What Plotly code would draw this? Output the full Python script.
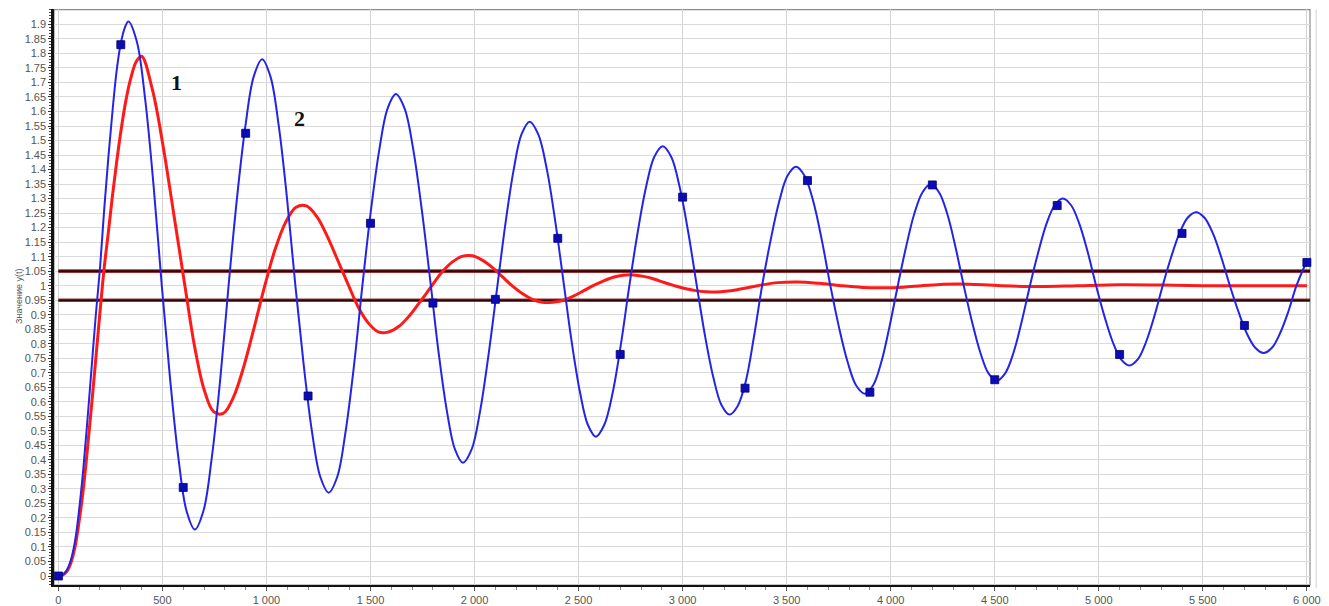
import plotly.graph_objects as go

# ---- data (time, value) ----
blue_t = [0, 20, 40, 60, 80, 100, 120, 140, 160, 180, 200, 220, 240, 260, 280, 300, 320, 337,
          377, 417, 457, 497, 537, 577, 616, 656, 697, 737, 778, 818, 858, 899, 939, 979,
          1019, 1059, 1099, 1139, 1179, 1219, 1259, 1299, 1340, 1380, 1421, 1461, 1501, 1542,
          1582, 1622, 1664, 1706, 1748, 1790, 1828, 1867, 1906, 1944, 1986, 2027, 2068, 2110,
          2149, 2188, 2226, 2265, 2306, 2348, 2389, 2430, 2468, 2507, 2545, 2583, 2623, 2664,
          2704, 2744, 2784, 2824, 2864, 2904, 2945, 2986, 3027, 3068, 3107, 3147, 3186, 3225,
          3264, 3304, 3343, 3382, 3423, 3464, 3504, 3545, 3586, 3628, 3669, 3710, 3751, 3793,
          3834, 3875, 3915, 3955, 3994, 4034, 4074, 4113, 4153, 4192, 4232, 4272, 4311, 4351,
          4391, 4431, 4470, 4510, 4550, 4590, 4629, 4669, 4709, 4748, 4788, 4827, 4867, 4907,
          4947, 4987, 5027, 5067, 5107, 5147, 5187, 5227, 5267, 5307, 5347, 5387, 5427, 5467,
          5508, 5549, 5589, 5630, 5671, 5711, 5752, 5792, 5832, 5871, 5911, 5950, 6000]
blue_v = [0, 0.004, 0.02, 0.055, 0.12, 0.23, 0.37, 0.54, 0.72, 0.90, 1.06, 1.26, 1.44, 1.60, 1.74, 1.835, 1.89, 1.91,
          1.841, 1.643, 1.349, 1.00, 0.678, 0.406, 0.224, 0.16, 0.224, 0.406, 0.678, 1.00, 1.299, 1.551, 1.721, 1.78,
          1.721, 1.551, 1.299, 1.00, 0.727, 0.496, 0.341, 0.287, 0.341, 0.496, 0.727, 1.00, 1.253, 1.467,
          1.610, 1.66, 1.610, 1.467, 1.253, 1.00, 0.766, 0.569, 0.436, 0.39, 0.436, 0.569, 0.766, 1.00,
          1.216, 1.399, 1.522, 1.565, 1.522, 1.399, 1.216, 1.00, 0.801, 0.632, 0.520, 0.48, 0.520, 0.632,
          0.801, 1.00, 1.184, 1.339, 1.444, 1.48, 1.444, 1.339, 1.184, 1.00, 0.830, 0.686, 0.590, 0.556,
          0.585, 0.672, 0.825, 1.00, 1.157, 1.290, 1.379, 1.41, 1.379, 1.290, 1.157, 1.00, 0.858, 0.737,
          0.656, 0.628, 0.656, 0.737, 0.858, 1.00, 1.134, 1.247, 1.322, 1.349, 1.322, 1.247, 1.134, 1.00,
          0.875, 0.769, 0.698, 0.673, 0.698, 0.769, 0.875, 1.00, 1.115, 1.212, 1.277, 1.30, 1.277, 1.212,
          1.115, 1.00, 0.895, 0.806, 0.746, 0.725, 0.746, 0.806, 0.895, 1.00, 1.097, 1.179, 1.234, 1.253,
          1.234, 1.179, 1.097, 1.00, 0.911, 0.836, 0.786, 0.768, 0.786, 0.836, 0.911, 1.00, 1.085]

red_t = [0, 20, 40, 60, 80, 100, 120, 140, 160, 180, 200, 220, 240, 260, 280, 300, 325, 350, 375, 400,
         452, 504, 556, 608, 654, 700, 746, 792, 842, 892, 942, 992, 1042, 1092, 1142, 1192,
         1243, 1293, 1344, 1395, 1442, 1490, 1537, 1584, 1637, 1690, 1742, 1795, 1843, 1892, 1940, 1989,
         2037, 2085, 2132, 2180, 2229, 2278, 2326, 2375, 2424, 2472, 2521, 2570, 2618, 2667, 2715, 2763,
         2812, 2862, 2911, 2960, 3010, 3062, 3112, 3163, 3262, 3360, 3457, 3553, 3657, 3760, 3865, 3969,
         4060, 4150, 4240, 4330, 4530, 4720, 4900, 5100, 5300, 5500, 5750, 6000]
red_v = [0, 0.003, 0.015, 0.045, 0.10, 0.19, 0.30, 0.44, 0.59, 0.75, 0.91, 1.06, 1.183, 1.31, 1.425, 1.53, 1.64, 1.72, 1.773, 1.79,
         1.675, 1.478, 1.240, 1.00, 0.793, 0.643, 0.566, 0.56, 0.617, 0.724, 0.859, 1.00, 1.126, 1.218, 1.270, 1.275,
         1.237, 1.169, 1.085, 1.00, 0.925, 0.871, 0.841, 0.84, 0.860, 0.899, 0.948, 1.00, 1.046, 1.081, 1.101, 1.103,
         1.088, 1.063, 1.032, 1.00, 0.973, 0.953, 0.943, 0.943, 0.949, 0.963, 0.981, 1.00, 1.016, 1.029, 1.036, 1.037,
         1.032, 1.023, 1.011, 1.00, 0.990, 0.983, 0.979, 0.978, 0.986, 1.00, 1.0105, 1.013, 1.008, 1.00, 0.994, 0.993,
         0.995, 1.00, 1.004, 1.006, 1.00, 0.997, 1.00, 1.003, 1.002, 1.00, 1.00, 1.00]

marker_t = [0, 300, 600, 900, 1200, 1500, 1800, 2100, 2400, 2700, 3000, 3300, 3600, 3900,
            4200, 4500, 4800, 5100, 5400, 5700, 6000]
marker_v = [0.0, 1.83, 0.305, 1.525, 0.62, 1.215, 0.94, 0.953, 1.163, 0.763, 1.305, 0.647,
            1.362, 0.633, 1.347, 0.676, 1.276, 0.763, 1.18, 0.863, 1.08]

band_t = [0, 6015]
band_upper = [1.05, 1.05]
band_lower = [0.95, 0.95]

x_tickvals = [0, 500, 1000, 1500, 2000, 2500, 3000, 3500, 4000, 4500, 5000, 5500, 6000]
x_ticktext = ["0", "500", "1 000", "1 500", "2 000", "2 500", "3 000", "3 500", "4 000",
              "4 500", "5 000", "5 500", "6 000"]
y_tickvals = [0, 0.05, 0.1, 0.15, 0.2, 0.25, 0.3, 0.35, 0.4, 0.45, 0.5, 0.55, 0.6, 0.65,
              0.7, 0.75, 0.8, 0.85, 0.9, 0.95, 1, 1.05, 1.1, 1.15, 1.2, 1.25, 1.3, 1.35,
              1.4, 1.45, 1.5, 1.55, 1.6, 1.65, 1.7, 1.75, 1.8, 1.85, 1.9]
y_ticktext = ["0", "0.05", "0.1", "0.15", "0.2", "0.25", "0.3", "0.35", "0.4", "0.45", "0.5",
              "0.55", "0.6", "0.65", "0.7", "0.75", "0.8", "0.85", "0.9", "0.95", "1", "1.05",
              "1.1", "1.15", "1.2", "1.25", "1.3", "1.35", "1.4", "1.45", "1.5", "1.55", "1.6",
              "1.65", "1.7", "1.75", "1.8", "1.85", "1.9"]
y_title = "Значение y(t)"
curve_labels = [("1", 566, 1.70), ("2", 1157, 1.577)]

# ---- figure ----
fig = go.Figure()

for band in (band_upper, band_lower):
    fig.add_trace(go.Scatter(x=band_t, y=band, mode="lines",
                             line=dict(color="#9a3030", width=3.6), hoverinfo="skip", showlegend=False))
    fig.add_trace(go.Scatter(x=band_t, y=band, mode="lines",
                             line=dict(color="#2a0606", width=1.6), hoverinfo="skip", showlegend=False))

fig.add_trace(go.Scatter(x=red_t, y=red_v, mode="lines",
                         line=dict(color="#ff1a1a", width=3, shape="spline", smoothing=1.0),
                         showlegend=False))
fig.add_trace(go.Scatter(x=blue_t, y=blue_v, mode="lines",
                         line=dict(color="#2424e6", width=2, shape="spline", smoothing=1.0),
                         showlegend=False))
fig.add_trace(go.Scatter(x=marker_t, y=marker_v, mode="markers",
                         marker=dict(symbol="square", size=8, color="#0c0cb4",
                                     line=dict(color="#00007a", width=0.8)),
                         showlegend=False, cliponaxis=False))

for txt, tx, ty in curve_labels:
    fig.add_annotation(x=tx, y=ty, text="<b>%s</b>" % txt, showarrow=False,
                       font=dict(family="Liberation Serif", size=22, color="#111111"))

fig.add_annotation(xref="paper", yref="paper", x=(12 - 54) / 1256, y=0.5, text=y_title,
                   textangle=-90, showarrow=False,
                   font=dict(family="Liberation Sans", size=9, color="#555555"))

# frame lines (top/right grey) and an outer light line
fig.add_shape(type="rect", xref="paper", yref="paper", x0=0, y0=0, x1=1, y1=0.999,
              line=dict(color="#8c8c8c", width=1.2), layer="below")
fig.add_shape(type="line", xref="paper", yref="paper", x0=1.0049, x1=1.0049, y0=-0.005, y1=0.999,
              line=dict(color="#d0d0d0", width=1), layer="below")

# the page body adds an 8px offset, so the figure is sized to fill the rest of the window
fig.update_layout(
    width=1321, height=598,
    margin=dict(l=46, r=19, t=1, b=21),
    paper_bgcolor="white", plot_bgcolor="white",
    font=dict(family="Liberation Sans", size=11, color="#555555"),
    showlegend=False,
)
fig.update_xaxes(
    range=[-21, 6015], tickvals=x_tickvals, ticktext=x_ticktext,
    showgrid=True, gridcolor="#d2d2d2", gridwidth=1,
    zeroline=False, showline=True, linecolor="#111111", linewidth=2,
    ticks="outside", ticklen=4, tickcolor="#555555",
    minor=dict(dtick=100, tick0=0, ticks="outside", ticklen=3, tickcolor="#888888", showgrid=False),
    tickfont=dict(size=11, color="#555555"),
)
fig.update_yaxes(
    range=[-0.031, 1.953], tickvals=y_tickvals, ticktext=y_ticktext,
    showgrid=True, gridcolor="#dadada", gridwidth=1,
    zeroline=False, showline=True, linecolor="#111111", linewidth=2.5,
    ticks="outside", ticklen=3, tickcolor="#333333",
    minor=dict(dtick=0.01, tick0=0, ticks="outside", ticklen=2, tickcolor="#444444", showgrid=False),
    tickfont=dict(size=11, color="#555555"),
)

fig.write_html("out.html")
